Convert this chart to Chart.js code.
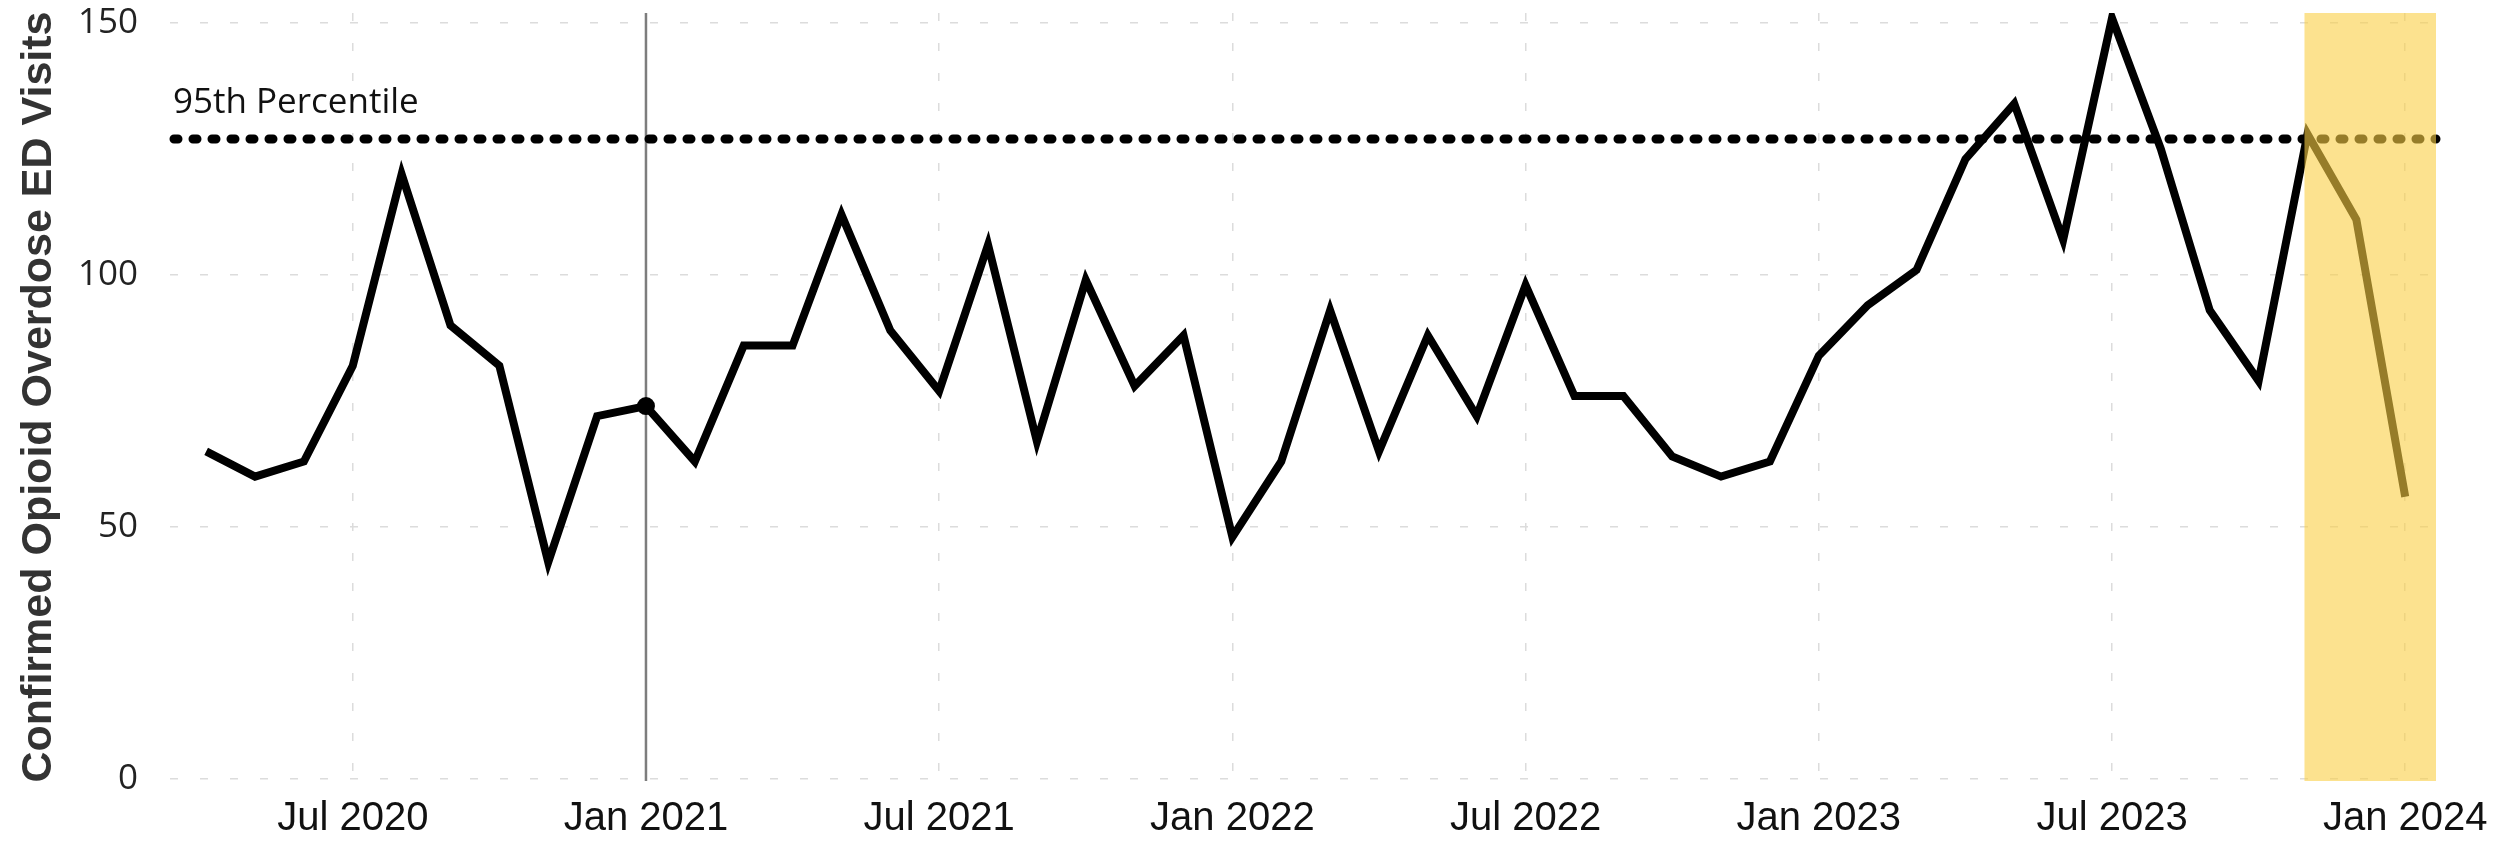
<!DOCTYPE html>
<html>
<head>
<meta charset="utf-8">
<script src="https://cdn.jsdelivr.net/npm/chart.js@4.4.1/dist/chart.umd.min.js"></script>
<style>
  html, body { margin: 0; padding: 0; background: #fff; }
  #wrap { width: 2512px; height: 842px; position: relative; }
</style>
</head>
<body>
<div id="wrap"><canvas id="ChartVisits"></canvas></div>
<script>
const months = [
    "Apr 2020", "May 2020", "Jun 2020", "Jul 2020", "Aug 2020", "Sep 2020",
    "Oct 2020", "Nov 2020", "Dec 2020",
    "Jan 2021", "Feb 2021", "Mar 2021", "Apr 2021", "May 2021", "Jun 2021",
    "Jul 2021", "Aug 2021", "Sep 2021", "Oct 2021", "Nov 2021", "Dec 2021",
    "Jan 2022", "Feb 2022", "Mar 2022", "Apr 2022", "May 2022", "Jun 2022",
    "Jul 2022", "Aug 2022", "Sep 2022", "Oct 2022", "Nov 2022", "Dec 2022",
    "Jan 2023", "Feb 2023", "Mar 2023", "Apr 2023", "May 2023", "Jun 2023",
    "Jul 2023", "Aug 2023", "Sep 2023", "Oct 2023", "Nov 2023", "Dec 2023",
    "Jan 2024",
];
const visits = [
    65, 60, 63, 82, 120, 90, 82, 43, 72,
    74, 63, 86, 86, 112, 89, 77, 106, 67, 99, 78, 88,
    48, 63, 93, 65, 88, 72, 98, 76, 76, 64, 60, 63,
    84, 94, 101, 123, 134, 107, 151, 125, 93, 79, 128, 111,
    56,
];
const xTickLabels = [
    "Jul 2020", "Jan 2021", "Jul 2021", "Jan 2022",
    "Jul 2022", "Jan 2023", "Jul 2023", "Jan 2024",
];
const yTickValues = [0, 50, 100, 150];

const percentile95 = 127;
const percentileLabel = "95th Percentile";
const markerMonth = "Jan 2021"; // vertical reference line + dot
const shadeFrom = "Nov 2023";   // incomplete data shading

const markerIndex = months.indexOf(markerMonth);

// reference line, percentile line, shaded band
const overlays = {
    id: "overlays",
    beforeDatasetsDraw(chart) {
        const { ctx, chartArea, scales } = chart;
        const x = scales.x.getPixelForValue(markerIndex);
        ctx.save();
        ctx.strokeStyle = "#7d7d7d";
        ctx.lineWidth = 2.5;
        ctx.beginPath();
        ctx.moveTo(x, chartArea.top);
        ctx.lineTo(x, chartArea.bottom);
        ctx.stroke();

        const y = scales.y.getPixelForValue(percentile95);
        ctx.strokeStyle = "#000";
        ctx.lineWidth = 9;
        ctx.lineCap = "round";
        ctx.setLineDash([4, 15]);
        ctx.beginPath();
        ctx.moveTo(chartArea.left + 4, y);
        ctx.lineTo(chartArea.right, y);
        ctx.stroke();
        ctx.setLineDash([]);

        ctx.fillStyle = "#111";
        ctx.font = "35px 'Open Sans'";
        ctx.textBaseline = "alphabetic";
        ctx.textAlign = "left";
        ctx.fillText(percentileLabel, chartArea.left + 3, y - 26);
        ctx.restore();
    },
    afterDatasetsDraw(chart) {
        const { ctx, chartArea, scales } = chart;
        const x0 = scales.x.getPixelForValue(months.indexOf(shadeFrom)) - 3;
        ctx.save();
        ctx.fillStyle = "rgba(250, 206, 68, 0.6)";
        ctx.fillRect(x0, chartArea.top, chartArea.right - x0, chartArea.bottom - chartArea.top);
        ctx.restore();
    },
};

document.addEventListener("DOMContentLoaded", function () {
    const ctx = document.getElementById("ChartVisits");
    new Chart(ctx, {
        type: "line",
        data: {
            datasets: [
                {
                    label: "Confirmed Opioid Overdose ED Visits",
                    data: visits.map((v, i) => ({ x: i, y: v })),
                    borderColor: "#000",
                    backgroundColor: "#000",
                    borderWidth: 8,
                    borderJoinStyle: "miter",
                    tension: 0,
                    pointRadius: visits.map((v, i) => (i === markerIndex ? 9 : 0)),
                    pointBorderWidth: 0,
                    fill: false,
                },
            ],
        },
        options: {
            responsive: true,
            maintainAspectRatio: false,
            animation: false,
            layout: { padding: { top: 13, right: 76, left: 0, bottom: 0 } },
            plugins: {
                legend: { display: false },
                tooltip: { enabled: false },
            },
            scales: {
                x: {
                    type: "linear",
                    min: -0.74,
                    max: 45.63,
                    afterBuildTicks: (scale) => {
                        scale.ticks = xTickLabels.map((m) => ({ value: months.indexOf(m) }));
                    },
                    afterFit: (scale) => {
                        scale.height = 61;
                        scale.paddingLeft = 0;
                        scale.paddingRight = 0;
                    },
                    ticks: {
                        autoSkip: false,
                        maxRotation: 0,
                        padding: 14,
                        color: "#111",
                        font: { family: "'Liberation Sans', Arial", size: 40 },
                        callback: (value) => months[value],
                    },
                    grid: { color: "#dcdcdc", lineWidth: 1.5, drawTicks: false },
                    border: { display: false, dash: [8, 22] },
                },
                y: {
                    min: -0.4,
                    max: 152,
                    afterBuildTicks: (scale) => {
                        scale.ticks = yTickValues.map((v) => ({ value: v }));
                    },
                    afterFit: (scale) => {
                        scale.width = 170;
                        scale.paddingTop = 0;
                        scale.paddingBottom = 0;
                    },
                    ticks: {
                        padding: 32,
                        color: "#222",
                        font: { family: "'Open Sans'", size: 35 },
                    },
                    grid: { color: "#dcdcdc", lineWidth: 1.5, drawTicks: false },
                    border: { display: false, dash: [8, 22] },
                    title: {
                        display: true,
                        text: "Confirmed Opioid Overdose ED Visits",
                        color: "#333",
                        font: { family: "'Liberation Sans', Arial", size: 43, weight: "bold" },
                        padding: { top: 13, bottom: 0 },
                    },
                },
            },
        },
        plugins: [overlays],
    });
});
</script>
</body>
</html>
